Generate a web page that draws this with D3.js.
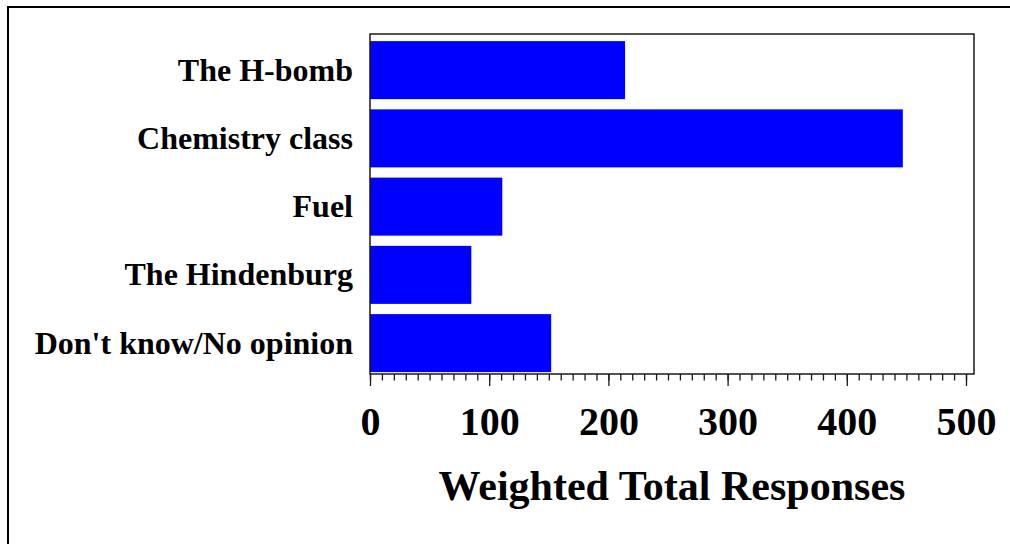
<!DOCTYPE html>
<html>
<head>
<meta charset="utf-8">
<script src="https://cdn.jsdelivr.net/npm/d3@7"></script>
<style>
  body { margin: 0; background: #fff; }
  svg text { font-family: "Liberation Serif", "Times New Roman", serif; font-weight: bold; fill: #000; }
</style>
</head>
<body>
<div id="chart"></div>
<script>
const categories = ["The H-bomb", "Chemistry class", "Fuel", "The Hindenburg", "Don't know/No opinion"];
const responses = [214, 447, 111, 85, 152];
const majorTicks = [0, 100, 200, 300, 400, 500];
const axisTitle = "Weighted Total Responses";

const width = 1010, height = 544;
const plot = { left: 370, top: 34, right: 974, bottom: 374 };

const svg = d3.select("#chart")
    .append("svg")
    .attr("width", width)
    .attr("height", height);

// outer border, runs off the right and bottom edges
svg.append("rect")
    .attr("x", 8).attr("y", 7)
    .attr("width", 1100).attr("height", 600)
    .attr("fill", "none")
    .attr("stroke", "#000")
    .attr("stroke-width", 2);

const x = d3.scaleLinear()
    .domain([0, 500])
    .range([370, 966]);

const y = d3.scaleBand()
    .domain(categories)
    .range([36, 377.25])
    .paddingInner(0.15)
    .paddingOuter(0.075);

svg.selectAll("rect.bar")
    .data(categories)
    .enter()
    .append("rect")
    .attr("class", "bar")
    .attr("x", x(0))
    .attr("y", d => y(d))
    .attr("width", (d, i) => x(responses[i]) - x(0))
    .attr("height", y.bandwidth())
    .attr("fill", "#0000ff");

// plot frame
svg.append("rect")
    .attr("x", plot.left).attr("y", plot.top)
    .attr("width", plot.right - plot.left)
    .attr("height", plot.bottom - plot.top)
    .attr("fill", "none")
    .attr("stroke", "#1a1a1a")
    .attr("stroke-width", 1.5);

// category labels
svg.selectAll("text.cat")
    .data(categories)
    .enter()
    .append("text")
    .attr("class", "cat")
    .attr("x", 353)
    .attr("y", d => y(d) + y.bandwidth() / 2)
    .attr("dy", "0.33em")
    .attr("text-anchor", "end")
    .style("font-size", "32px")
    .text(d => d);

// minor ticks every 10
const minorAxis = svg.append("g")
    .attr("transform", `translate(0, ${plot.bottom})`)
    .call(d3.axisBottom(x).tickValues(d3.range(0, 501, 10)).tickSize(6.5).tickFormat(""));
minorAxis.select(".domain").remove();

const majorAxis = svg.append("g")
    .attr("transform", `translate(0, ${plot.bottom})`)
    .call(d3.axisBottom(x).tickValues(majorTicks).tickSize(12).tickPadding(21).tickFormat(d3.format("d")));
majorAxis.select(".domain").remove();
majorAxis.selectAll("text")
    .style("font-size", "40px")
    .style("font-family", "'Liberation Serif', 'Times New Roman', serif")
    .style("font-weight", "bold");
svg.selectAll(".tick line").attr("stroke", "#1a1a1a").attr("stroke-width", 1.3);

svg.append("text")
    .attr("x", 672)
    .attr("y", 500)
    .attr("text-anchor", "middle")
    .style("font-size", "42px")
    .text(axisTitle);
</script>
</body>
</html>
